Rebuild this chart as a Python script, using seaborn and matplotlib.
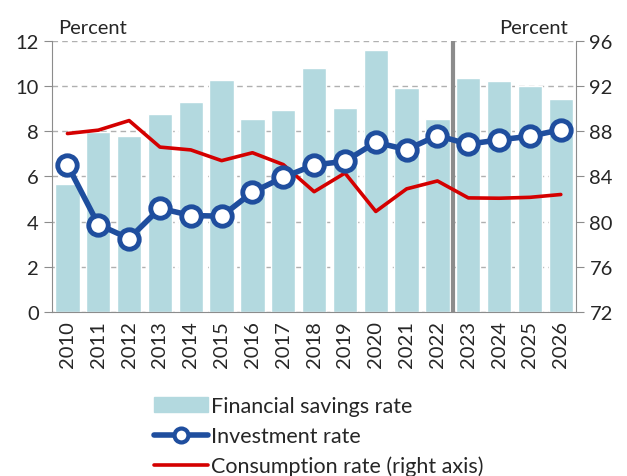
import matplotlib
matplotlib.use("Agg")
import matplotlib.pyplot as plt
import seaborn as sns
import pandas as pd
import numpy as np
from matplotlib.patches import Patch
from matplotlib.lines import Line2D

years = [str(y) for y in range(2010, 2027)]
savings = [5.67, 7.99, 7.77, 8.77, 9.29, 10.26, 8.53, 8.95, 10.82,
           9.05, 11.59, 9.9, 8.55, 10.36, 10.24, 10.0, 9.45]
investment = [6.51, 3.87, 3.25, 4.59, 4.27, 4.24, 5.3, 5.96, 6.51,
              6.67, 7.51, 7.19, 7.81, 7.43, 7.62, 7.78, 8.07]
consumption = [87.8, 88.1, 88.95, 86.6, 86.35, 85.4, 86.1, 85.05, 82.65,
               84.3, 80.9, 82.9, 83.6, 82.1, 82.07, 82.15, 82.4]

df = pd.DataFrame({"year": years, "savings": savings,
                   "investment": investment, "consumption": consumption})
df["pos"] = np.arange(len(df))

sns.set_style("white")
plt.rcParams["font.family"] = ["Lato", "DejaVu Sans"]
fs = 14.5

bar_col = "#b3d9df"
blue = "#1f4e9e"
red = "#d40000"
grey = "#8c8c8c"

fig = plt.figure(figsize=(6.27, 4.77), dpi=100)
ax = fig.add_axes([0.083, 0.344, 0.836, 0.568])

sns.barplot(data=df, x="year", y="savings", color=bar_col, width=0.79,
            saturation=1, ax=ax, zorder=2)
ax.set_ylim(0, 12)
ax.set_yticks(range(0, 13, 2))
ax.set_xlim(-0.5, len(years) - 0.5)
ax.yaxis.grid(True, color="#b0b0b0", linestyle=(0, (4, 3)), linewidth=1)
ax.set_axisbelow(True)
ax.set_xlabel("")
ax.set_ylabel("")

ax2 = ax.twinx()
sns.lineplot(data=df, x="pos", y="consumption", color=red, linewidth=2.6,
             ax=ax2, zorder=3)
ax2.set_ylim(72, 96)
ax2.set_yticks(range(72, 97, 4))
ax2.set_ylabel("")
ax2.set_xlabel("")

# investment on the left axis, drawn on top
ax3 = ax.twinx()
ax3.set_ylim(0, 12)
ax3.axis("off")
sns.lineplot(data=df, x="pos", y="investment", color=blue, linewidth=4,
             marker="o", markersize=14, markerfacecolor="white",
             markeredgecolor=blue, markeredgewidth=3.5, ax=ax3, zorder=4)
ax3.set_xlim(-0.5, len(years) - 0.5)
ax2.set_xlim(-0.5, len(years) - 0.5)

ax.axvline(12.5, color=grey, linewidth=3, zorder=3)

for a in (ax, ax2):
    for s in a.spines.values():
        s.set_visible(False)
ax.spines["left"].set_visible(True)
ax.spines["left"].set_color(grey)
ax.spines["bottom"].set_visible(True)
ax.spines["bottom"].set_color(grey)
ax2.spines["right"].set_visible(True)
ax2.spines["right"].set_color(grey)

ax.set_xticks(np.arange(len(years)))
ax.set_xticklabels(years, rotation=90)
ax.set_xticks(np.arange(-0.5, len(years)), minor=True)
ax.tick_params(axis="x", which="major", length=0, pad=6, labelsize=fs)
ax.tick_params(axis="x", which="minor", length=6, color=grey)
ax.tick_params(axis="y", length=6, color=grey, labelsize=fs)
ax2.tick_params(axis="y", length=6, color=grey, labelsize=fs)

fig.text(0.093, 0.928, "Percent", fontsize=fs, ha="left")
fig.text(0.905, 0.928, "Percent", fontsize=fs, ha="right")

handles = [Patch(color=bar_col),
           Line2D([], [], color=blue, linewidth=4, marker="o", markersize=10,
                  markerfacecolor="white", markeredgecolor=blue, markeredgewidth=3),
           Line2D([], [], color=red, linewidth=2.6)]
labels = ["Financial savings rate", "Investment rate", "Consumption rate (right axis)"]
fig.legend(handles, labels, loc="upper left", bbox_to_anchor=(0.232, 0.185),
           frameon=False, fontsize=15.5, handlelength=2.5, handletextpad=0.15,
           labelspacing=0.45, borderaxespad=0)

fig.savefig("out.png", dpi=100)
